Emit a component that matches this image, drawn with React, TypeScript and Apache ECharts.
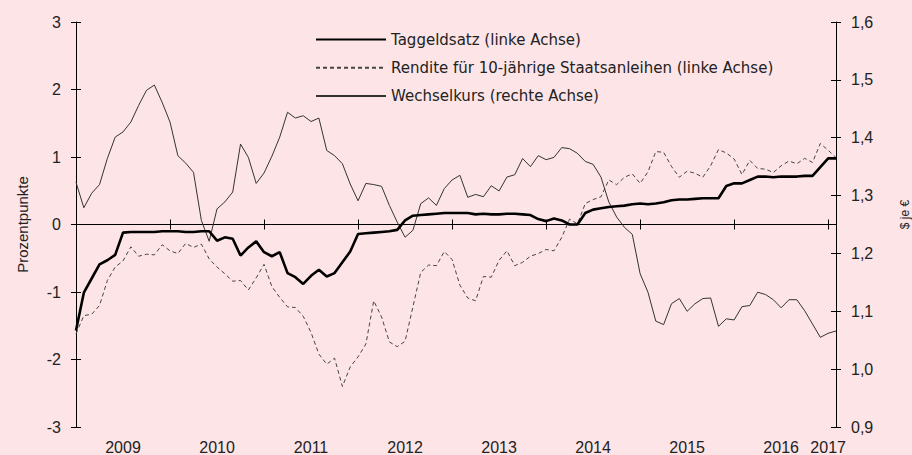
import React, { useEffect, useRef } from "react";
import * as echarts from "echarts";

const YEARS = ["2009", "2010", "2011", "2012", "2013", "2014", "2015", "2016", "2017"];
const MONTHS = ["01", "02", "03", "04", "05", "06", "07", "08", "09", "10", "11", "12"];

const LEFT_TICKS = [-3, -2, -1, 0, 1, 2, 3];
const RIGHT_TICKS = [0.9, 1.0, 1.1, 1.2, 1.3, 1.4, 1.5, 1.6];

const taggeldsatz = [
  -1.57, -1.01, -0.80, -0.59, -0.53, -0.45, -0.12, -0.11, -0.11, -0.11, -0.11, -0.10,
  -0.10, -0.10, -0.11, -0.11, -0.10, -0.10, -0.24, -0.19, -0.21, -0.46, -0.34, -0.25,
  -0.41, -0.47, -0.41, -0.72, -0.78, -0.88, -0.76, -0.67, -0.77, -0.72, -0.56, -0.40,
  -0.14, -0.13, -0.12, -0.11, -0.10, -0.08, 0.06, 0.13, 0.14, 0.15, 0.16, 0.17,
  0.17, 0.17, 0.17, 0.15, 0.16, 0.15, 0.15, 0.16, 0.16, 0.15, 0.14, 0.08,
  0.05, 0.09, 0.06, 0.00, 0.00, 0.17, 0.22, 0.24, 0.26, 0.27, 0.28, 0.30,
  0.31, 0.30, 0.31, 0.33, 0.36, 0.37, 0.37, 0.38, 0.39, 0.39, 0.39, 0.57,
  0.61, 0.61, 0.66, 0.71, 0.71, 0.70, 0.71, 0.71, 0.71, 0.72, 0.72, 0.85,
  0.98, 0.98,
];

const rendite = [
  -1.62, -1.35, -1.33, -1.20, -0.83, -0.63, -0.54, -0.33, -0.47, -0.44, -0.45, -0.30,
  -0.39, -0.43, -0.28, -0.34, -0.29, -0.51, -0.63, -0.73, -0.84, -0.83, -0.97, -0.79,
  -0.59, -0.92, -1.08, -1.22, -1.23, -1.36, -1.60, -1.92, -2.07, -1.98, -2.40, -2.11,
  -1.96, -1.77, -1.13, -1.37, -1.74, -1.81, -1.73, -1.22, -0.71, -0.60, -0.61, -0.40,
  -0.52, -0.90, -1.09, -1.13, -0.77, -0.78, -0.53, -0.39, -0.61, -0.56, -0.47, -0.43,
  -0.37, -0.39, -0.19, 0.08, 0.01, 0.31, 0.37, 0.41, 0.66, 0.59, 0.70, 0.75,
  0.61, 0.78, 1.08, 1.07, 0.86, 0.70, 0.79, 0.76, 0.70, 0.87, 1.11, 1.06,
  0.97, 0.74, 0.95, 0.83, 0.82, 0.77, 0.87, 0.94, 0.90, 0.98, 0.92, 1.20,
  1.10, 0.99,
];

const wechselkurs = [
  1.323, 1.279, 1.304, 1.319, 1.364, 1.401, 1.410, 1.427, 1.456, 1.482, 1.491, 1.461,
  1.427, 1.369, 1.356, 1.340, 1.257, 1.221, 1.277, 1.289, 1.306, 1.389, 1.366, 1.321,
  1.339, 1.368, 1.401, 1.444, 1.434, 1.438, 1.428, 1.434, 1.378, 1.369, 1.355, 1.320,
  1.291, 1.321, 1.319, 1.316, 1.283, 1.254, 1.228, 1.240, 1.286, 1.296, 1.283, 1.312,
  1.327, 1.335, 1.297, 1.302, 1.298, 1.317, 1.308, 1.332, 1.336, 1.364, 1.350, 1.369,
  1.362, 1.366, 1.383, 1.381, 1.373, 1.359, 1.354, 1.332, 1.289, 1.263, 1.245, 1.233,
  1.165, 1.133, 1.083, 1.077, 1.113, 1.122, 1.100, 1.113, 1.122, 1.123, 1.074, 1.087,
  1.085, 1.108, 1.110, 1.133, 1.129, 1.120, 1.106, 1.120, 1.120, 1.101, 1.078, 1.055,
  1.062, 1.066,
];

const SERIES_NAMES = [
  "Taggeldsatz (linke Achse)",
  "Rendite für 10-jährige Staatsanleihen (linke Achse)",
  "Wechselkurs (rechte Achse)",
];

const categories: string[] = [];
for (const y of YEARS) {
  for (const m of MONTHS) {
    if (categories.length < taggeldsatz.length) categories.push(`${y}-${m}`);
  }
}

const TEXT = "#222222";
const AXIS_FONT = "Liberation Sans, Arial, sans-serif";
const LEGEND_FONT = "DejaVu Sans, sans-serif";

export default function App() {
  const ref = useRef<HTMLDivElement>(null);

  useEffect(() => {
    document.body.style.margin = "0";
    if (!ref.current) return;
    const chart = echarts.init(ref.current, undefined, { renderer: "svg" });

    const yBase = (min: number, max: number, interval: number, position: string) => ({
      type: "value",
      min,
      max,
      interval,
      position,
      splitLine: { show: false },
      axisLine: { show: true, lineStyle: { color: "#000", width: 1 } },
      axisTick: { show: true, length: 5, lineStyle: { color: "#000", width: 1 } },
    });

    const option: any = {
      animation: false,
      backgroundColor: "#FDE4E6",
      grid: {
        left: 76,
        right: 76,
        top: 22,
        bottom: 28,
        containLabel: false,
        outerBoundsMode: "none",
      },
      legend: {
        orient: "vertical",
        left: 315,
        top: 32,
        padding: 0,
        itemWidth: 70,
        itemHeight: 14,
        itemGap: 13.3,
        data: SERIES_NAMES,
        itemStyle: { color: "transparent", borderWidth: 0, opacity: 0 },
        textStyle: { fontFamily: LEGEND_FONT, fontSize: 15, color: TEXT },
      },
      xAxis: [
        {
          type: "category",
          data: categories,
          boundaryGap: false,
          position: "bottom",
          axisLine: { show: true, onZero: true, onZeroAxisIndex: 0, lineStyle: { color: "#000", width: 1 } },
          axisTick: {
            show: true,
            inside: true,
            length: 5,
            interval: (i: number) => i % 12 === 0,
            lineStyle: { color: "#000" },
          },
          axisLabel: { show: false },
          splitLine: { show: false },
        },
        {
          type: "category",
          data: categories,
          boundaryGap: false,
          position: "bottom",
          axisLine: { show: false, onZero: false },
          axisTick: { show: false },
          axisLabel: {
            show: true,
            interval: (i: number) => (i % 12 === 6 && i < 96) || i === 96,
            formatter: (v: string) => v.slice(0, 4),
            fontFamily: AXIS_FONT,
            fontSize: 16,
            color: TEXT,
            margin: 12,
          },
          splitLine: { show: false },
        },
        {
          type: "category",
          data: categories,
          boundaryGap: false,
          position: "bottom",
          axisLine: { show: false, onZero: true, onZeroAxisIndex: 0 },
          axisTick: {
            show: true,
            inside: false,
            length: 5,
            interval: (i: number) => i % 12 === 0,
            lineStyle: { color: "#000" },
          },
          axisLabel: { show: false },
          splitLine: { show: false },
        },
      ],
      yAxis: [
        {
          ...yBase(LEFT_TICKS[0], LEFT_TICKS[LEFT_TICKS.length - 1], 1, "left"),
          name: "Prozentpunkte",
          nameLocation: "middle",
          nameRotate: 90,
          nameGap: 46,
          nameTextStyle: { fontFamily: AXIS_FONT, fontSize: 15, color: TEXT },
          axisLabel: { fontFamily: AXIS_FONT, fontSize: 16, color: TEXT, margin: 15 },
        },
        {
          ...yBase(RIGHT_TICKS[0], RIGHT_TICKS[RIGHT_TICKS.length - 1], 0.1, "right"),
          name: "$ je €",
          nameLocation: "middle",
          nameRotate: 90,
          nameGap: 63,
          nameTextStyle: {
            fontFamily: AXIS_FONT,
            fontSize: 12,
            color: TEXT,
            padding: [0, 0, 0, 20],
          },
          axisLabel: {
            fontFamily: AXIS_FONT,
            fontSize: 16,
            color: TEXT,
            margin: 15,
            formatter: (v: number) => v.toFixed(1).replace(".", ","),
          },
        },
        {
          ...yBase(LEFT_TICKS[0], LEFT_TICKS[LEFT_TICKS.length - 1], 1, "left"),
          axisLine: { show: false },
          axisTick: { show: true, inside: true, length: 5, lineStyle: { color: "#000" } },
          axisLabel: { show: false },
        },
        {
          ...yBase(RIGHT_TICKS[0], RIGHT_TICKS[RIGHT_TICKS.length - 1], 0.1, "right"),
          axisLine: { show: false },
          axisTick: { show: true, inside: true, length: 5, lineStyle: { color: "#000" } },
          axisLabel: { show: false },
        },
      ],
      series: [
        {
          name: SERIES_NAMES[0],
          type: "line",
          data: taggeldsatz,
          xAxisIndex: 0,
          yAxisIndex: 0,
          symbol: "none",
          lineStyle: { color: "#000000", width: 2.6 },
          itemStyle: { color: "#000000" },
          z: 5,
        },
        {
          name: SERIES_NAMES[1],
          type: "line",
          data: rendite,
          xAxisIndex: 0,
          yAxisIndex: 0,
          symbol: "none",
          lineStyle: { color: "#444444", width: 1, type: [4, 3] },
          itemStyle: { color: "#444444" },
          z: 3,
        },
        {
          name: SERIES_NAMES[2],
          type: "line",
          data: wechselkurs,
          xAxisIndex: 0,
          yAxisIndex: 1,
          symbol: "none",
          lineStyle: { color: "#333333", width: 1 },
          itemStyle: { color: "#333333" },
          z: 4,
        },
      ],
    };

    chart.setOption(option);
    return () => chart.dispose();
  }, []);

  return <div ref={ref} style={{ width: 912, height: 455 }} />;
}
